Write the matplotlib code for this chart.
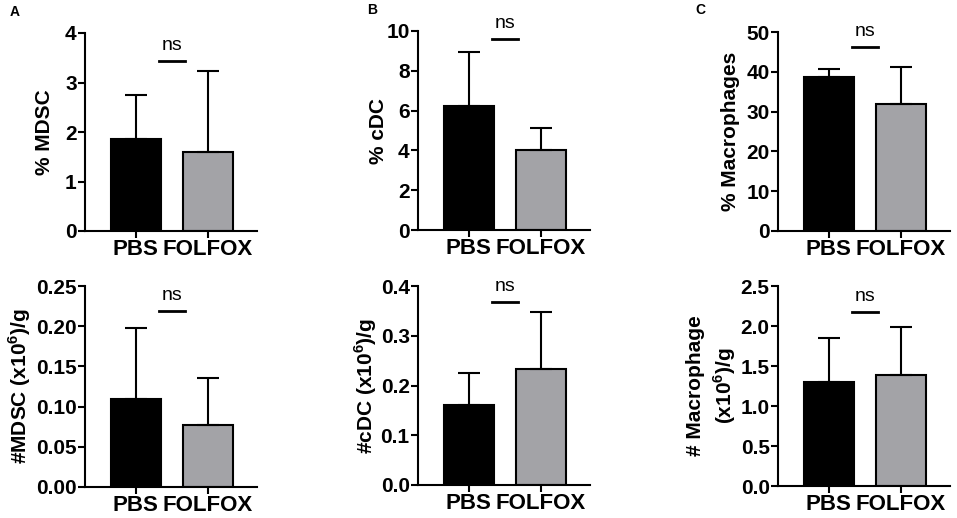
import numpy as np
import matplotlib
matplotlib.use('Agg')
import matplotlib.pyplot as plt

plt.rcParams['font.family'] = ['Liberation Sans', 'DejaVu Sans']
plt.rcParams['font.weight'] = 'bold'
plt.rcParams['axes.labelweight'] = 'bold'
plt.rcParams['mathtext.fontset'] = 'custom'
plt.rcParams['mathtext.rm'] = 'Liberation Sans:bold'
plt.rcParams['mathtext.bf'] = 'Liberation Sans:bold'

###################################################################################################
# data (mean and upper error bar)
groups = ['PBS', 'FOLFOX']

mdsc_pct = [1.86, 1.60]
mdsc_pct_err = [0.89, 1.64]
mdsc_num = [0.109, 0.0775]
mdsc_num_err = [0.089, 0.0585]

cdc_pct = [6.22, 4.04]
cdc_pct_err = [2.72, 1.09]
cdc_num = [0.160, 0.233]
cdc_num_err = [0.065, 0.114]

mac_pct = [38.6, 31.8]
mac_pct_err = [2.2, 9.4]
mac_num = [1.30, 1.39]
mac_num_err = [0.55, 0.60]

# height of the "ns" bracket on each panel
ns_level = [3.43, 0.219, 9.6, 0.367, 46.2, 2.17]

ylabels = ['% MDSC', r'#MDSC (x10$^{6}$)/g',
           '% cDC', r'#cDC (x10$^{6}$)/g',
           '% Macrophages', '# Macrophage\n' + r'(x10$^{6}$)/g']
###################################################################################################

W, H = 957, 518
fig = plt.figure(figsize=(W / 100, H / 100), dpi=100)


def px_axes(left, top, bottom, width=172):
    return fig.add_axes([left / W, 1 - bottom / H, width / W, (bottom - top) / H])


panels = [
    # axes rect (px), values, errors, ticks, tick format, label offset px
    (px_axes(85, 33, 231), mdsc_pct, mdsc_pct_err, np.arange(0, 4.01, 1), '%d', -40),
    (px_axes(85, 286, 487), mdsc_num, mdsc_num_err, np.arange(0, 0.251, 0.05), '%.2f', -65),
    (px_axes(418, 31, 230), cdc_pct, cdc_pct_err, np.arange(0, 10.1, 2), '%d', -39),
    (px_axes(418, 286, 485), cdc_num, cdc_num_err, np.arange(0, 0.41, 0.1), '%.1f', -52),
    (px_axes(778, 32, 231), mac_pct, mac_pct_err, np.arange(0, 50.1, 10), '%d', -47),
    (px_axes(778, 286, 486), mac_num, mac_num_err, np.arange(0, 2.51, 0.5), '%.1f', -66),
]

x = np.arange(len(groups))
lw = 1.5

for i, (ax, vals, errs, ticks, fmt, lab_off) in enumerate(panels):
    ax.bar(x, vals, width=0.69, color=['black', '#a3a3a7'],
           edgecolor='black', linewidth=lw,
           yerr=[np.zeros(len(vals)), errs],
           error_kw=dict(elinewidth=lw, capsize=8, capthick=lw, ecolor='black'),
           zorder=2)
    ax.set_xlim(-0.7, 1.68)
    ax.set_ylim(ticks[0], ticks[-1])
    ax.set_yticks(ticks)
    ax.set_yticklabels([fmt % t for t in ticks], fontsize=15, fontweight='bold')
    ax.set_xticks(x)
    ax.set_xticklabels(groups, fontsize=16, fontweight='bold')

    for side in ['top', 'right']:
        ax.spines[side].set_visible(False)
    for side in ['left', 'bottom']:
        ax.spines[side].set_linewidth(lw)
    ax.tick_params(axis='y', width=lw, length=5, pad=1)
    ax.tick_params(axis='x', width=lw, length=5, pad=1)

    ax.set_ylabel(ylabels[i], fontsize=15, fontweight='bold', va='center', ha='center',
                  linespacing=1.3)
    ax.yaxis.set_label_coords(lab_off / 172, 0.5)

    # ns bracket
    y = ns_level[i]
    ax.plot([0.32, 0.68], [y, y], color='black', lw=2, clip_on=False)
    ax.text(0.5, y + (ticks[-1] - ticks[0]) * 0.035, 'ns', ha='center', va='bottom',
            fontsize=14, fontweight='normal', clip_on=False)

# panel letters
fig.text(10 / W, 1 - 12 / H, 'A', fontsize=10, ha='left', va='center')
fig.text(367 / W, 1 - 10 / H, 'B', fontsize=10, ha='left', va='center')
fig.text(695 / W, 1 - 10 / H, 'C', fontsize=10, ha='left', va='center')

fig.savefig('out.png', dpi=100)
